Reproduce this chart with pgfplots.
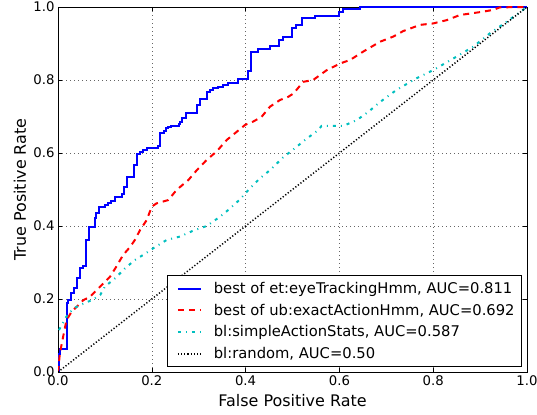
\documentclass[border=0pt]{standalone}
\usepackage{pgfplots}
\pgfplotsset{compat=1.18}
\usepackage{fontspec}
\setmainfont{DejaVu Sans}
\definecolor{mplc}{rgb}{0,0.75,0.75}
\begin{document}
\begin{tikzpicture}
\path[use as bounding box] (-58bp,-43bp) rectangle (479bp,372bp);
\begin{axis}[
  at={(0,0)}, anchor=south west,
  scale only axis, width=469bp, height=365bp,
  xmin=0, xmax=1, ymin=0, ymax=1,
  xtick={0,0.2,0.4,0.6,0.8,1.0},
  ytick={0,0.2,0.4,0.6,0.8,1.0},
  /pgf/number format/.cd, fixed, fixed zerofill, precision=1, assume math mode=true,
  /pgfplots/.cd,
  tick label style={font=\fontsize{13.3}{15}\selectfont, black},
  tick align=inside,
  major tick length=4bp,
  tick style={black, line width=0.5bp},
  axis line style={black, line width=0.8bp},
  grid=major,
  grid style={black!60, line width=0.5bp, dash pattern=on 1bp off 3bp},
  xlabel={False Positive Rate},
  ylabel={True Positive Rate},
  label style={font=\fontsize{16}{19}\selectfont},
  xlabel style={at={(axis description cs:0.5,-0.0795)}, anchor=center},
  ylabel style={at={(axis description cs:-0.081,0.5)}, anchor=center},
  legend cell align=left,
  legend style={at={(0.9893,0.0137)}, anchor=south east, draw=black, line width=0.8bp,
    fill=white, font=\fontsize{14.8}{17}\selectfont, row sep=5bp,
    inner xsep=5bp, inner ysep=4.5bp,
    /tikz/every odd column/.append style={column sep=10bp}},
  legend image code/.code={\path (0bp,0bp); \draw[#1] (4bp,0bp) -- (27bp,0bp);},
]
\addplot[const plot, blue, line width=2bp] coordinates {
(0.000,0.000) (0.002,0.050) (0.004,0.062) (0.020,0.188) (0.022,0.197)
(0.028,0.216) (0.034,0.229) (0.040,0.257) (0.047,0.284) (0.054,0.290)
(0.060,0.362) (0.067,0.398) (0.079,0.421) (0.082,0.435) (0.088,0.453)
(0.100,0.458) (0.107,0.462) (0.114,0.469) (0.122,0.480) (0.136,0.488)
(0.141,0.508) (0.148,0.535) (0.161,0.567) (0.168,0.597) (0.175,0.604)
(0.182,0.608) (0.189,0.615) (0.214,0.619) (0.217,0.654) (0.225,0.661)
(0.230,0.668) (0.235,0.672) (0.242,0.675) (0.257,0.679) (0.260,0.686)
(0.264,0.695) (0.273,0.709) (0.296,0.731) (0.303,0.747) (0.318,0.768)
(0.324,0.773) (0.331,0.777) (0.342,0.782) (0.352,0.786) (0.363,0.793)
(0.384,0.804) (0.406,0.825) (0.411,0.877) (0.427,0.886) (0.452,0.894)
(0.472,0.910) (0.480,0.919) (0.498,0.942) (0.507,0.951) (0.520,0.970)
(0.548,0.975) (0.600,0.986) (0.607,0.995) (0.644,1.000) (1.000,1.000)
};
\addlegendentry{best of et:eyeTrackingHmm, AUC=0.811}
\addplot[red, line width=2bp, dash pattern=on 6bp off 5bp] coordinates {
(0.000,0.000) (0.004,0.051) (0.011,0.097) (0.018,0.142) (0.029,0.165)
(0.040,0.179) (0.054,0.197) (0.068,0.206) (0.083,0.225) (0.097,0.243)
(0.111,0.261) (0.125,0.290) (0.139,0.321) (0.154,0.343) (0.164,0.362)
(0.175,0.389) (0.189,0.416) (0.200,0.453) (0.210,0.462) (0.235,0.471)
(0.253,0.499) (0.278,0.526) (0.296,0.553) (0.317,0.581) (0.338,0.604)
(0.360,0.636) (0.381,0.658) (0.399,0.677) (0.416,0.686) (0.434,0.699)
(0.452,0.727) (0.473,0.745) (0.491,0.754) (0.502,0.763) (0.523,0.795)
(0.544,0.800) (0.573,0.827) (0.601,0.845) (0.623,0.855) (0.651,0.878)
(0.687,0.905) (0.715,0.919) (0.736,0.934) (0.772,0.951) (0.800,0.955)
(0.829,0.964) (0.857,0.978) (0.900,0.986) (0.928,0.992) (0.942,0.999)
(1.000,1.000)
};
\addlegendentry{best of ub:exactActionHmm, AUC=0.692}
\addplot[mplc, line width=2bp, dash pattern=on 3bp off 5bp on 1bp off 5bp] coordinates {
(0.002,0.115) (0.018,0.152) (0.033,0.174) (0.050,0.185) (0.072,0.197)
(0.090,0.211) (0.100,0.234) (0.122,0.257) (0.143,0.284) (0.164,0.307)
(0.182,0.321) (0.203,0.339) (0.232,0.362) (0.260,0.371) (0.288,0.387)
(0.317,0.400) (0.345,0.425) (0.367,0.448) (0.388,0.473) (0.409,0.503)
(0.431,0.531) (0.452,0.553) (0.480,0.588) (0.502,0.610) (0.527,0.636)
(0.552,0.660) (0.562,0.674) (0.608,0.674) (0.637,0.690) (0.662,0.713)
(0.687,0.740) (0.722,0.773) (0.765,0.805) (0.800,0.827) (0.843,0.859)
(0.885,0.891) (0.921,0.928) (0.957,0.960) (1.000,1.000)
};
\addlegendentry{bl:simpleActionStats, AUC=0.587}
\addplot[black, line width=1.5bp, dash pattern=on 1.2bp off 2bp] coordinates {
(0,0) (1,1)
};
\addlegendentry{bl:random, AUC=0.50}
\end{axis}
\end{tikzpicture}
\end{document}
